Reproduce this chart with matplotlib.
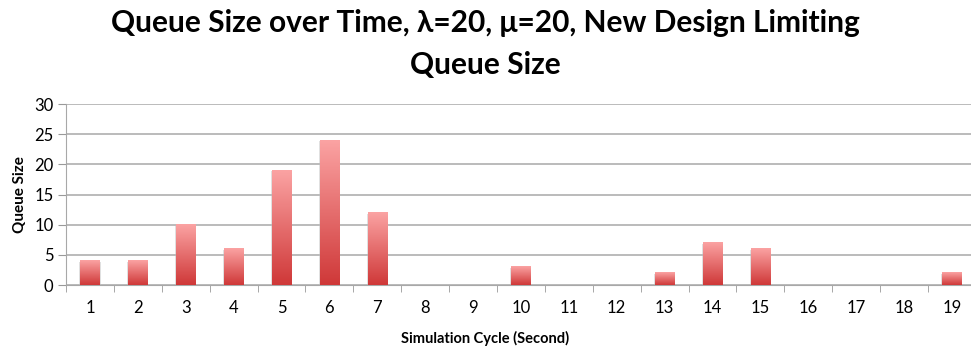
import numpy as np
import matplotlib
matplotlib.use("Agg")
import matplotlib.pyplot as plt
from matplotlib.colors import LinearSegmentedColormap

plt.rcParams['font.family'] = ['Lato', 'DejaVu Sans']

cycles = list(range(1, 20))
queue_size = [4, 4, 10, 6, 19, 24, 12, 0, 0, 3, 0, 0, 2, 7, 6, 0, 0, 0, 2]
y_ticks = [0, 5, 10, 15, 20, 25, 30]

fig = plt.figure(figsize=(9.71, 3.48), dpi=100)
ax = fig.add_axes([0.068, 0.181, 0.937, 0.520])

grad = LinearSegmentedColormap.from_list("bar", ["#cf3838", "#fba3a3"])
gimg = np.linspace(0, 1, 256).reshape(-1, 1)

bw = 0.40
for i, v in enumerate(queue_size):
    if v <= 0:
        continue
    # soft shadow behind each bar
    ax.bar(i, v, width=bw + 0.04, bottom=-0.15, color="#bbbbbb", alpha=0.45,
           zorder=2, linewidth=0)
    ax.imshow(gimg, cmap=grad, origin="lower", aspect="auto",
              extent=[i - bw / 2, i + bw / 2, 0, v], zorder=3)

ax.set_xlim(-0.5, len(cycles) - 0.5)
ax.set_ylim(0, 30)

ax.set_yticks(y_ticks)
ax.set_yticklabels([str(t) for t in y_ticks], fontsize=12)
ax.yaxis.grid(True, color="#a8a8a8", linewidth=1.1, zorder=0)
ax.set_axisbelow(True)

ax.set_xticks(range(len(cycles)))
ax.set_xticklabels([str(c) for c in cycles], fontsize=12)
ax.set_xticks(np.arange(-0.5, len(cycles), 1.0), minor=True)
ax.tick_params(axis="x", which="major", length=0, pad=11)
ax.tick_params(axis="x", which="minor", length=5, color="#999999", direction="out")
ax.tick_params(axis="y", length=6, color="#999999", direction="out", pad=3)

for side in ["top", "right"]:
    ax.spines[side].set_visible(False)
ax.spines["left"].set_color("#a8a8a8")
ax.spines["bottom"].set_color("#a8a8a8")

ax.set_ylabel("Queue Size", fontsize=11, fontweight="bold", labelpad=5)
fig.text(0.5, 0.015, "Simulation Cycle (Second)", ha="center", va="baseline",
         fontsize=10.5, fontweight="bold")

fig.text(0.5, 0.975, "Queue Size over Time, λ=20, μ=20, New Design Limiting\nQueue Size",
         ha="center", va="top", fontsize=21.5, fontweight="bold", linespacing=1.6)

fig.savefig("out.png", dpi=100)
